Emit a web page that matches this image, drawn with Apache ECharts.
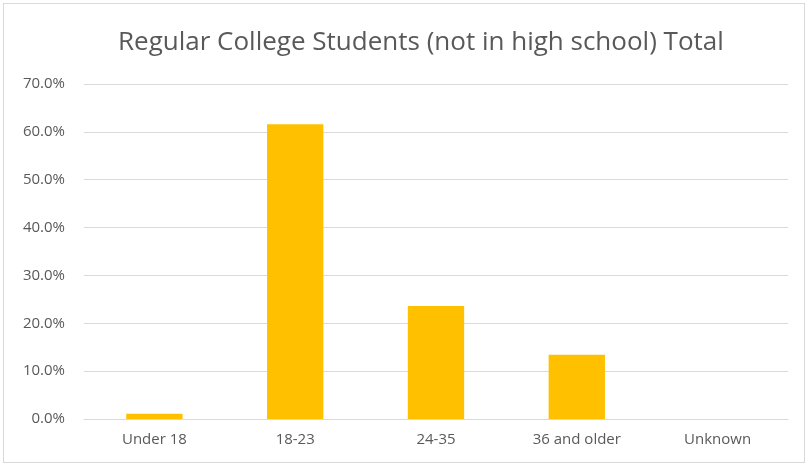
<!DOCTYPE html>
<html>
<head>
<meta charset="utf-8">
<script src="https://cdn.jsdelivr.net/npm/echarts@6/dist/echarts.min.js"></script>
<style>
    html, body { margin: 0; padding: 0; background: #fff; }
    .chart { width: 809px; height: 467px; }
    .frame { position: absolute; left: 3px; top: 3px; width: 802px; height: 460px; border: 1px solid #d9d9d9; box-sizing: border-box; pointer-events: none; }
</style>
</head>
<body>
<div class="frame"></div>
<div class="chart"></div>
<script>
// 数据
var categories = ["Under 18", "18-23", "24-35", "36 and older", "Unknown"];
var values = [1.1, 61.6, 23.6, 13.4, 0];
var tickMax = 70;
var tickStep = 10;

(function () {
    var myChart = echarts.init(document.querySelector(".chart"));
    var option = {
        animation: false,
        title: {
            text: "Regular College Students (not in high school) Total",
            left: 113,
            top: 25,
            textStyle: {
                color: "#595959",
                fontSize: 26,
                fontWeight: "normal",
                fontFamily: "Open Sans"
            }
        },
        grid: {
            left: 84,
            right: 21,
            top: 84,
            bottom: 48
        },
        xAxis: {
            type: "category",
            data: categories,
            axisTick: { show: false },
            axisLine: {
                lineStyle: { color: "#d9d9d9", width: 1 }
            },
            axisLabel: {
                color: "#595959",
                fontSize: 15,
                fontFamily: "Open Sans",
                margin: 13
            }
        },
        yAxis: {
            type: "value",
            min: 0,
            max: tickMax,
            interval: tickStep,
            axisLine: { show: false },
            axisTick: { show: false },
            axisLabel: {
                color: "#595959",
                fontSize: 15,
                fontFamily: "Open Sans",
                margin: 19,
                formatter: function (v) { return v.toFixed(1) + "%"; }
            },
            splitLine: {
                lineStyle: { color: "#d9d9d9", width: 1 }
            }
        },
        series: [
            {
                type: "bar",
                data: values,
                barWidth: "40%",
                itemStyle: { color: "#ffc000" }
            }
        ]
    };
    myChart.setOption(option);
    window.addEventListener("resize", function () {
        myChart.resize();
    });
})();
</script>
</body>
</html>
